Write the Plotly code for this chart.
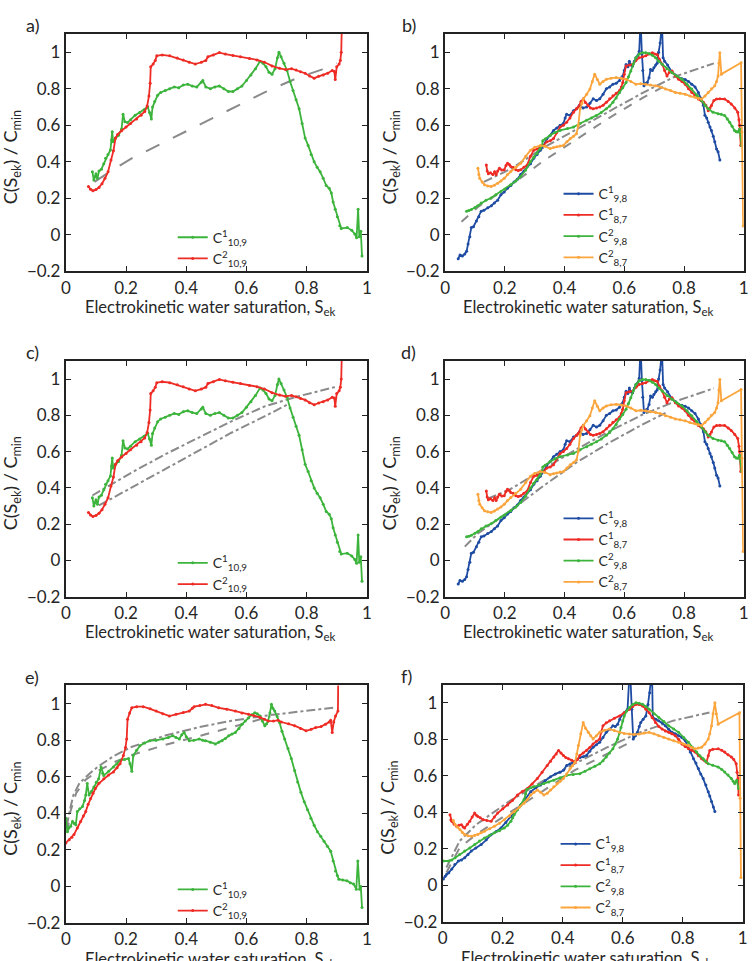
import plotly.graph_objects as go

# ---------------- data ----------------
A_GREEN = [(0.088,0.345),(0.093,0.30),(0.097,0.32),(0.1,0.335),(0.105,0.31),(0.11,0.35),(0.118,0.36),(0.126,0.39),(0.132,0.42),(0.14,0.44),(0.148,0.465),(0.152,0.52),(0.154,0.565),(0.157,0.51),(0.165,0.53),(0.175,0.545),(0.185,0.58),(0.19,0.66),(0.196,0.62),(0.205,0.615),(0.215,0.63),(0.23,0.655),(0.245,0.67),(0.26,0.685),(0.272,0.70),(0.278,0.67),(0.284,0.635),(0.288,0.70),(0.295,0.73),(0.305,0.765),(0.315,0.78),(0.33,0.79),(0.345,0.80),(0.36,0.81),(0.375,0.805),(0.39,0.82),(0.405,0.825),(0.42,0.815),(0.435,0.81),(0.45,0.835),(0.455,0.845),(0.465,0.81),(0.48,0.80),(0.495,0.81),(0.51,0.815),(0.525,0.80),(0.54,0.785),(0.555,0.785),(0.57,0.80),(0.585,0.815),(0.6,0.845),(0.615,0.875),(0.63,0.91),(0.645,0.95),(0.655,0.94),(0.665,0.92),(0.675,0.89),(0.685,0.88),(0.695,0.91),(0.703,0.97),(0.708,1.0),(0.715,0.975),(0.725,0.94),(0.735,0.90),(0.745,0.84),(0.755,0.79),(0.765,0.74),(0.775,0.69),(0.785,0.61),(0.795,0.53),(0.805,0.49),(0.815,0.44),(0.825,0.40),(0.835,0.37),(0.845,0.345),(0.855,0.31),(0.865,0.27),(0.875,0.255),(0.882,0.23),(0.888,0.18),(0.895,0.14),(0.902,0.10),(0.91,0.05),(0.915,0.035),(0.935,0.04),(0.95,0.025),(0.96,0.005),(0.966,-0.015),(0.971,0.14),(0.975,-0.01),(0.98,0.02),(0.984,-0.115)]
A_RED = [(0.075,0.265),(0.082,0.25),(0.09,0.242),(0.1,0.248),(0.11,0.26),(0.12,0.28),(0.13,0.31),(0.14,0.345),(0.15,0.41),(0.158,0.46),(0.165,0.53),(0.172,0.55),(0.185,0.57),(0.2,0.59),(0.215,0.61),(0.235,0.635),(0.25,0.655),(0.262,0.675),(0.27,0.705),(0.276,0.76),(0.28,0.83),(0.282,0.92),(0.29,0.935),(0.297,0.955),(0.302,0.98),(0.32,0.985),(0.345,0.98),(0.37,0.968),(0.39,0.958),(0.41,0.945),(0.43,0.935),(0.45,0.945),(0.465,0.955),(0.472,0.975),(0.49,0.985),(0.51,0.998),(0.53,0.99),(0.555,0.982),(0.58,0.975),(0.61,0.965),(0.635,0.958),(0.66,0.945),(0.685,0.925),(0.71,0.912),(0.73,0.905),(0.75,0.91),(0.765,0.902),(0.78,0.893),(0.795,0.885),(0.81,0.87),(0.825,0.858),(0.84,0.868),(0.855,0.875),(0.87,0.885),(0.885,0.90),(0.892,0.895),(0.895,0.85),(0.90,0.92),(0.908,0.935),(0.912,0.955),(0.915,1.0),(0.917,1.15)]
A_FIT = [(0.095,0.29),(0.15,0.35),(0.22,0.42),(0.33,0.51),(0.44,0.60),(0.55,0.69),(0.66,0.78),(0.77,0.86),(0.85,0.905),(0.90,0.94)]
C_FIT_UP = [(0.088,0.358),(0.15,0.42),(0.22,0.486),(0.33,0.585),(0.44,0.676),(0.55,0.767),(0.66,0.849),(0.77,0.904),(0.90,0.958)]
C_FIT_LO = [(0.11,0.303),(0.22,0.404),(0.33,0.504),(0.44,0.603),(0.55,0.704),(0.66,0.794),(0.735,0.858)]

B_BLUE = [(0.044,-0.13),(0.05,-0.11),(0.058,-0.115),(0.066,-0.105),(0.072,-0.09),(0.077,-0.05),(0.083,-0.01),(0.088,0.04),(0.095,0.045),(0.105,0.076),(0.113,0.10),(0.121,0.13),(0.13,0.135),(0.143,0.148),(0.155,0.16),(0.165,0.175),(0.176,0.19),(0.187,0.22),(0.198,0.235),(0.209,0.256),(0.22,0.27),(0.231,0.29),(0.242,0.305),(0.253,0.33),(0.264,0.35),(0.275,0.374),(0.286,0.39),(0.297,0.42),(0.308,0.44),(0.319,0.464),(0.33,0.49),(0.341,0.527),(0.352,0.545),(0.363,0.572),(0.374,0.585),(0.385,0.60),(0.396,0.61),(0.402,0.64),(0.407,0.66),(0.418,0.655),(0.43,0.68),(0.44,0.69),(0.45,0.71),(0.462,0.695),(0.474,0.70),(0.485,0.72),(0.496,0.745),(0.507,0.735),(0.518,0.745),(0.529,0.77),(0.54,0.80),(0.551,0.81),(0.562,0.825),(0.573,0.83),(0.584,0.845),(0.59,0.86),(0.595,0.87),(0.6,0.90),(0.606,0.933),(0.612,0.92),(0.617,0.95),(0.622,0.93),(0.628,0.925),(0.634,0.95),(0.639,0.97),(0.645,0.98),(0.65,1.005),(0.653,1.12),(0.656,1.12),(0.659,0.99),(0.662,0.90),(0.666,0.816),(0.672,0.83),(0.677,0.834),(0.683,0.86),(0.688,0.906),(0.694,0.90),(0.699,0.915),(0.705,0.93),(0.71,0.94),(0.715,1.0),(0.72,1.05),(0.724,1.12),(0.727,1.12),(0.73,0.97),(0.735,0.95),(0.745,0.93),(0.76,0.89),(0.771,0.875),(0.782,0.86),(0.793,0.855),(0.804,0.85),(0.815,0.84),(0.826,0.825),(0.837,0.81),(0.848,0.78),(0.856,0.75),(0.865,0.71),(0.87,0.655),(0.876,0.64),(0.881,0.617),(0.887,0.59),(0.892,0.572),(0.898,0.54),(0.903,0.51),(0.909,0.47),(0.914,0.455),(0.92,0.41)]
B_RED = [(0.138,0.383),(0.141,0.35),(0.145,0.335),(0.152,0.34),(0.16,0.33),(0.166,0.345),(0.171,0.33),(0.176,0.35),(0.182,0.365),(0.19,0.355),(0.198,0.356),(0.204,0.38),(0.209,0.392),(0.215,0.385),(0.22,0.374),(0.228,0.37),(0.237,0.356),(0.245,0.352),(0.253,0.356),(0.264,0.37),(0.275,0.383),(0.286,0.43),(0.297,0.464),(0.308,0.47),(0.319,0.482),(0.33,0.49),(0.341,0.51),(0.352,0.515),(0.363,0.527),(0.374,0.56),(0.385,0.59),(0.396,0.60),(0.407,0.617),(0.418,0.64),(0.43,0.672),(0.44,0.69),(0.446,0.70),(0.455,0.73),(0.463,0.745),(0.47,0.725),(0.479,0.708),(0.487,0.695),(0.496,0.69),(0.507,0.695),(0.518,0.70),(0.529,0.71),(0.54,0.726),(0.551,0.745),(0.562,0.762),(0.573,0.775),(0.584,0.79),(0.59,0.81),(0.595,0.834),(0.6,0.88),(0.606,0.925),(0.617,0.93),(0.628,0.934),(0.639,0.955),(0.65,0.97),(0.661,0.975),(0.672,0.98),(0.683,0.99),(0.694,0.997),(0.702,0.99),(0.71,0.988),(0.718,0.96),(0.727,0.934),(0.735,0.90),(0.743,0.87),(0.751,0.89),(0.76,0.897),(0.771,0.87),(0.782,0.852),(0.793,0.84),(0.804,0.825),(0.815,0.80),(0.826,0.78),(0.837,0.765),(0.848,0.744),(0.857,0.735),(0.865,0.726),(0.873,0.71),(0.881,0.68),(0.887,0.695),(0.892,0.708),(0.90,0.735),(0.909,0.744),(0.92,0.745),(0.936,0.744),(0.948,0.73),(0.958,0.717),(0.97,0.695),(0.98,0.672),(0.984,0.63),(0.986,0.60),(0.99,0.49)]
B_GREEN = [(0.072,0.13),(0.08,0.133),(0.088,0.139),(0.1,0.15),(0.11,0.16),(0.121,0.175),(0.137,0.19),(0.154,0.202),(0.17,0.22),(0.187,0.238),(0.2,0.25),(0.22,0.274),(0.237,0.295),(0.253,0.32),(0.27,0.355),(0.286,0.40),(0.297,0.425),(0.308,0.446),(0.318,0.47),(0.325,0.49),(0.327,0.515),(0.335,0.525),(0.352,0.545),(0.368,0.56),(0.385,0.572),(0.41,0.582),(0.43,0.59),(0.452,0.61),(0.474,0.627),(0.49,0.64),(0.507,0.654),(0.523,0.67),(0.54,0.69),(0.551,0.705),(0.562,0.726),(0.573,0.75),(0.584,0.78),(0.595,0.805),(0.606,0.834),(0.614,0.865),(0.622,0.897),(0.63,0.935),(0.639,0.97),(0.65,0.99),(0.661,0.997),(0.672,0.997),(0.683,0.993),(0.694,0.983),(0.705,0.97),(0.716,0.95),(0.727,0.934),(0.743,0.91),(0.76,0.888),(0.776,0.87),(0.793,0.852),(0.81,0.825),(0.826,0.798),(0.843,0.765),(0.859,0.735),(0.87,0.71),(0.881,0.69),(0.897,0.672),(0.914,0.663),(0.925,0.66),(0.936,0.654),(0.945,0.635),(0.953,0.617),(0.961,0.595),(0.969,0.572),(0.975,0.565),(0.98,0.563),(0.986,0.58),(0.993,0.49)]
B_ORANGE = [(0.11,0.365),(0.113,0.33),(0.116,0.31),(0.124,0.29),(0.132,0.274),(0.143,0.268),(0.154,0.265),(0.165,0.272),(0.176,0.283),(0.187,0.295),(0.198,0.31),(0.209,0.33),(0.22,0.347),(0.237,0.37),(0.253,0.392),(0.27,0.43),(0.286,0.464),(0.30,0.48),(0.319,0.49),(0.335,0.485),(0.352,0.473),(0.363,0.478),(0.374,0.482),(0.385,0.487),(0.396,0.49),(0.408,0.51),(0.419,0.527),(0.43,0.54),(0.44,0.554),(0.446,0.60),(0.452,0.69),(0.458,0.72),(0.463,0.744),(0.474,0.77),(0.485,0.798),(0.493,0.84),(0.501,0.88),(0.51,0.85),(0.518,0.825),(0.529,0.84),(0.54,0.852),(0.556,0.858),(0.573,0.861),(0.59,0.857),(0.606,0.852),(0.622,0.84),(0.639,0.825),(0.655,0.828),(0.672,0.825),(0.688,0.82),(0.705,0.816),(0.72,0.81),(0.738,0.798),(0.755,0.79),(0.771,0.78),(0.787,0.775),(0.804,0.77),(0.82,0.76),(0.837,0.753),(0.848,0.748),(0.859,0.744),(0.87,0.76),(0.881,0.78),(0.892,0.80),(0.903,0.816),(0.909,0.84),(0.914,0.87),(0.917,0.94),(0.92,0.997),(0.925,0.88),(0.991,0.942),(0.994,0.563),(0.998,0.049)]
B_FIT_UP = [(0.13,0.29),(0.22,0.361),(0.33,0.478),(0.44,0.578),(0.55,0.677),(0.66,0.776),(0.77,0.867),(0.90,0.939)]
B_FIT_LO = [(0.055,0.072),(0.11,0.153),(0.22,0.271),(0.33,0.406),(0.44,0.523),(0.55,0.641),(0.66,0.749),(0.73,0.81)]
D_FIT_UP = [(0.143,0.34),(0.22,0.394),(0.33,0.504),(0.44,0.613),(0.55,0.712),(0.66,0.803),(0.77,0.876),(0.90,0.949)]
D_FIT_LO = [(0.066,0.076),(0.11,0.149),(0.22,0.276),(0.33,0.412),(0.44,0.54),(0.55,0.649),(0.66,0.749),(0.738,0.813)]

E_GREEN = [(0.0,0.374),(0.005,0.30),(0.01,0.32),(0.016,0.33),(0.022,0.356),(0.028,0.345),(0.033,0.338),(0.038,0.41),(0.046,0.425),(0.055,0.437),(0.062,0.47),(0.066,0.50),(0.071,0.563),(0.077,0.50),(0.085,0.52),(0.093,0.545),(0.101,0.57),(0.109,0.59),(0.117,0.654),(0.122,0.62),(0.126,0.608),(0.142,0.63),(0.158,0.654),(0.17,0.67),(0.18,0.69),(0.195,0.695),(0.208,0.70),(0.213,0.672),(0.219,0.63),(0.224,0.717),(0.235,0.745),(0.246,0.77),(0.262,0.785),(0.279,0.798),(0.30,0.80),(0.322,0.807),(0.34,0.815),(0.355,0.825),(0.366,0.815),(0.377,0.807),(0.385,0.83),(0.393,0.843),(0.40,0.82),(0.41,0.798),(0.425,0.80),(0.443,0.807),(0.455,0.80),(0.464,0.798),(0.48,0.79),(0.497,0.78),(0.508,0.79),(0.519,0.798),(0.53,0.81),(0.541,0.825),(0.552,0.835),(0.563,0.843),(0.575,0.865),(0.585,0.888),(0.596,0.905),(0.607,0.924),(0.618,0.94),(0.628,0.951),(0.636,0.945),(0.645,0.933),(0.653,0.905),(0.661,0.88),(0.667,0.89),(0.672,0.906),(0.678,0.95),(0.683,0.997),(0.688,0.975),(0.694,0.96),(0.702,0.93),(0.71,0.897),(0.718,0.85),(0.727,0.807),(0.738,0.755),(0.749,0.70),(0.76,0.635),(0.77,0.572),(0.781,0.515),(0.792,0.464),(0.803,0.42),(0.814,0.374),(0.825,0.335),(0.836,0.30),(0.847,0.275),(0.858,0.247),(0.869,0.22),(0.88,0.193),(0.888,0.14),(0.896,0.085),(0.902,0.06),(0.907,0.04),(0.92,0.035),(0.934,0.031),(0.945,0.02),(0.956,0.013),(0.965,-0.015),(0.97,0.14),(0.976,-0.015),(0.98,0.0),(0.984,-0.115)]
E_RED = [(0.0,0.238),(0.011,0.256),(0.02,0.27),(0.027,0.284),(0.038,0.32),(0.049,0.356),(0.058,0.385),(0.066,0.41),(0.074,0.45),(0.082,0.482),(0.09,0.51),(0.098,0.536),(0.11,0.565),(0.126,0.59),(0.142,0.61),(0.158,0.627),(0.17,0.65),(0.18,0.672),(0.191,0.717),(0.198,0.76),(0.202,0.807),(0.205,0.915),(0.212,0.95),(0.219,0.978),(0.235,0.984),(0.257,0.984),(0.28,0.972),(0.30,0.96),(0.322,0.945),(0.344,0.933),(0.366,0.942),(0.39,0.952),(0.41,0.96),(0.42,0.975),(0.426,0.984),(0.445,0.99),(0.464,0.997),(0.485,0.99),(0.508,0.978),(0.535,0.97),(0.563,0.96),(0.585,0.95),(0.607,0.942),(0.625,0.935),(0.645,0.925),(0.66,0.915),(0.672,0.906),(0.69,0.905),(0.705,0.91),(0.716,0.90),(0.74,0.89),(0.76,0.88),(0.78,0.865),(0.798,0.852),(0.815,0.86),(0.83,0.87),(0.848,0.875),(0.863,0.888),(0.875,0.90),(0.88,0.91),(0.885,0.843),(0.89,0.90),(0.896,0.933),(0.904,0.96),(0.905,1.15)]
E_FIT_UP = [(0.003,0.33),(0.012,0.41),(0.025,0.50),(0.045,0.565),(0.08,0.62),(0.11,0.66),(0.16,0.715),(0.22,0.765),(0.33,0.826),(0.44,0.871),(0.55,0.907),(0.66,0.934),(0.77,0.956),(0.89,0.979)]
E_FIT_LO = [(0.005,0.30),(0.015,0.41),(0.034,0.51),(0.066,0.585),(0.11,0.635),(0.16,0.68),(0.22,0.72),(0.33,0.775),(0.44,0.822),(0.55,0.87),(0.66,0.92),(0.68,0.93)]

F_BLUE = [(0.002,0.035),(0.008,0.05),(0.013,0.062),(0.02,0.07),(0.03,0.09),(0.04,0.115),(0.052,0.134),(0.062,0.14),(0.073,0.152),(0.084,0.17),(0.095,0.188),(0.11,0.205),(0.128,0.224),(0.145,0.25),(0.161,0.278),(0.178,0.295),(0.194,0.315),(0.21,0.345),(0.227,0.378),(0.244,0.41),(0.26,0.44),(0.276,0.475),(0.293,0.513),(0.31,0.535),(0.326,0.55),(0.342,0.575),(0.359,0.595),(0.375,0.61),(0.391,0.62),(0.402,0.63),(0.413,0.657),(0.424,0.665),(0.435,0.675),(0.446,0.69),(0.457,0.70),(0.468,0.705),(0.479,0.712),(0.49,0.735),(0.501,0.757),(0.512,0.77),(0.523,0.784),(0.534,0.81),(0.545,0.838),(0.556,0.855),(0.567,0.874),(0.575,0.87),(0.583,0.883),(0.59,0.91),(0.594,0.928),(0.605,0.946),(0.616,0.965),(0.621,1.12),(0.626,1.12),(0.63,0.965),(0.635,0.802),(0.642,0.82),(0.649,0.838),(0.655,0.87),(0.66,0.892),(0.668,0.91),(0.677,0.928),(0.684,0.99),(0.69,1.055),(0.694,1.12),(0.698,1.12),(0.70,0.92),(0.71,0.91),(0.72,0.901),(0.731,0.89),(0.742,0.874),(0.753,0.855),(0.764,0.838),(0.775,0.83),(0.786,0.82),(0.797,0.81),(0.808,0.793),(0.817,0.76),(0.825,0.73),(0.836,0.694),(0.844,0.67),(0.852,0.64),(0.86,0.61),(0.868,0.585),(0.877,0.55),(0.885,0.513),(0.89,0.49),(0.896,0.46),(0.902,0.43),(0.907,0.405)]
F_RED = [(0.024,0.387),(0.027,0.36),(0.03,0.351),(0.038,0.335),(0.046,0.324),(0.054,0.33),(0.062,0.333),(0.068,0.32),(0.073,0.315),(0.082,0.335),(0.09,0.351),(0.098,0.375),(0.106,0.396),(0.112,0.385),(0.117,0.378),(0.125,0.37),(0.134,0.36),(0.147,0.355),(0.161,0.351),(0.172,0.375),(0.183,0.396),(0.20,0.42),(0.216,0.44),(0.232,0.465),(0.249,0.495),(0.265,0.515),(0.282,0.531),(0.298,0.555),(0.315,0.585),(0.331,0.62),(0.348,0.657),(0.359,0.68),(0.37,0.703),(0.378,0.72),(0.386,0.739),(0.394,0.725),(0.402,0.712),(0.41,0.70),(0.419,0.694),(0.43,0.685),(0.441,0.675),(0.449,0.69),(0.457,0.712),(0.468,0.725),(0.479,0.739),(0.49,0.755),(0.501,0.775),(0.512,0.79),(0.523,0.802),(0.528,0.84),(0.534,0.874),(0.545,0.89),(0.556,0.901),(0.572,0.915),(0.589,0.928),(0.605,0.945),(0.622,0.965),(0.633,0.98),(0.644,0.992),(0.655,0.99),(0.666,0.983),(0.677,0.965),(0.688,0.946),(0.698,0.92),(0.709,0.892),(0.72,0.87),(0.731,0.856),(0.742,0.845),(0.753,0.838),(0.764,0.83),(0.775,0.82),(0.786,0.80),(0.797,0.775),(0.808,0.76),(0.819,0.748),(0.83,0.74),(0.841,0.73),(0.852,0.71),(0.863,0.694),(0.871,0.685),(0.879,0.675),(0.885,0.71),(0.89,0.739),(0.90,0.745),(0.918,0.748),(0.93,0.74),(0.94,0.73),(0.951,0.715),(0.962,0.703),(0.97,0.69),(0.978,0.666),(0.981,0.62),(0.984,0.585),(0.986,0.495)]
F_GREEN = [(0.002,0.134),(0.019,0.134),(0.03,0.14),(0.041,0.152),(0.056,0.17),(0.073,0.188),(0.09,0.205),(0.106,0.224),(0.122,0.243),(0.139,0.26),(0.156,0.275),(0.172,0.288),(0.189,0.30),(0.205,0.315),(0.216,0.33),(0.227,0.351),(0.233,0.37),(0.238,0.387),(0.249,0.415),(0.26,0.44),(0.271,0.47),(0.276,0.50),(0.28,0.525),(0.293,0.535),(0.304,0.54),(0.32,0.55),(0.337,0.558),(0.353,0.567),(0.37,0.576),(0.391,0.59),(0.413,0.603),(0.435,0.608),(0.457,0.612),(0.474,0.625),(0.49,0.639),(0.507,0.652),(0.523,0.666),(0.534,0.683),(0.545,0.703),(0.556,0.725),(0.567,0.748),(0.575,0.775),(0.583,0.802),(0.589,0.835),(0.594,0.865),(0.60,0.90),(0.605,0.928),(0.613,0.955),(0.622,0.974),(0.633,0.99),(0.644,1.0),(0.655,0.997),(0.666,0.992),(0.677,0.98),(0.688,0.965),(0.704,0.94),(0.72,0.92),(0.737,0.898),(0.753,0.874),(0.77,0.856),(0.786,0.838),(0.803,0.81),(0.819,0.784),(0.832,0.757),(0.846,0.73),(0.857,0.71),(0.868,0.694),(0.876,0.68),(0.885,0.666),(0.90,0.658),(0.918,0.648),(0.93,0.635),(0.94,0.621),(0.951,0.605),(0.962,0.585),(0.968,0.57),(0.973,0.558),(0.98,0.576),(0.986,0.531)]
F_ORANGE = [(0.035,0.355),(0.041,0.333),(0.049,0.32),(0.057,0.306),(0.065,0.29),(0.073,0.279),(0.084,0.272),(0.095,0.27),(0.106,0.274),(0.117,0.279),(0.128,0.288),(0.139,0.297),(0.156,0.31),(0.172,0.324),(0.189,0.34),(0.205,0.36),(0.222,0.38),(0.238,0.405),(0.255,0.428),(0.271,0.45),(0.282,0.47),(0.293,0.495),(0.304,0.51),(0.315,0.522),(0.326,0.51),(0.337,0.495),(0.348,0.505),(0.359,0.522),(0.37,0.54),(0.381,0.558),(0.391,0.57),(0.402,0.585),(0.413,0.61),(0.424,0.639),(0.432,0.655),(0.441,0.675),(0.447,0.72),(0.452,0.766),(0.46,0.83),(0.468,0.892),(0.476,0.86),(0.485,0.838),(0.493,0.82),(0.501,0.802),(0.512,0.82),(0.523,0.838),(0.539,0.85),(0.556,0.856),(0.572,0.848),(0.589,0.838),(0.605,0.832),(0.622,0.829),(0.638,0.826),(0.655,0.829),(0.671,0.835),(0.688,0.838),(0.704,0.83),(0.72,0.82),(0.737,0.81),(0.753,0.802),(0.77,0.792),(0.786,0.784),(0.803,0.775),(0.819,0.766),(0.83,0.755),(0.841,0.748),(0.852,0.752),(0.863,0.757),(0.874,0.775),(0.885,0.802),(0.89,0.83),(0.896,0.874),(0.901,0.94),(0.907,1.0),(0.912,0.94),(0.918,0.883),(0.989,0.946),(0.991,0.477),(0.994,0.044)]
F_FIT_UP = [(0.012,0.098),(0.056,0.243),(0.111,0.333),(0.22,0.459),(0.33,0.568),(0.44,0.667),(0.549,0.757),(0.659,0.839),(0.768,0.902),(0.889,0.947)]
F_FIT_LO = [(0.012,0.071),(0.056,0.206),(0.111,0.279),(0.22,0.396),(0.33,0.514),(0.44,0.631),(0.549,0.721),(0.615,0.775)]

X_TICKS = [0, 0.2, 0.4, 0.6, 0.8, 1]
Y_TICKS = [-0.2, 0, 0.2, 0.4, 0.6, 0.8, 1]
PANEL_LABELS = ["a)", "b)", "c)", "d)", "e)", "f)"]
NAME_10_1 = "C<sup>1</sup><sub>10,9</sub>"
NAME_10_2 = "C<sup>2</sup><sub>10,9</sub>"
NAME_98_1 = "C<sup>1</sup><sub>9,8</sub>"
NAME_87_1 = "C<sup>1</sup><sub>8,7</sub>"
NAME_98_2 = "C<sup>2</sup><sub>9,8</sub>"
NAME_87_2 = "C<sup>2</sup><sub>8,7</sub>"
X_TITLE = "Electrokinetic water saturation, S<sub>ek</sub>"
Y_TITLE = "C(S<sub>ek</sub>) / C<sub>min</sub>"

# ---------------- style ----------------
W, H = 752, 961
GREEN = "#3cb43c"
RED = "#ee2b24"
BLUE = "#1f4ca3"
ORANGE = "#fba53c"
GRAY = "#8a8a8a"
FONT = "Lato"
TXT = "#262626"

# panel boxes in pixels: (left, right, top, bottom)
BOX = [(61.7, 366.7, 34.3, 274.3), (446.0, 748.7, 34.3, 274.3),
       (61.7, 366.7, 364.7, 603.0), (446.0, 748.7, 364.7, 603.0),
       (61.7, 366.7, 692.7, 932.7), (443.7, 747.7, 691.7, 931.7)]

fig = go.Figure()

def px(x):
    return x / W

def py(y):
    return 1 - y / H

def add_line(i, pts, color, name=None, dash="solid", width=1.8, markers=True):
    k = "" if i == 0 else str(i + 1)
    fig.add_trace(go.Scatter(
        x=[p[0] for p in pts], y=[p[1] for p in pts],
        mode="lines+markers" if markers else "lines",
        line=dict(color=color, width=width, dash=dash),
        marker=dict(size=3, color=color),
        name=name if name else "fit",
        showlegend=name is not None,
        legend="legend" + k,
        xaxis="x" + k, yaxis="y" + k, hoverinfo="skip"))

# a
add_line(0, A_FIT, GRAY, dash="longdash", width=2, markers=False)
add_line(0, A_GREEN, GREEN, NAME_10_1)
add_line(0, A_RED, RED, NAME_10_2)
# b
add_line(1, B_FIT_UP, GRAY, dash="dashdot", width=2, markers=False)
add_line(1, B_FIT_LO, GRAY, dash="dash", width=2, markers=False)
add_line(1, B_BLUE, BLUE, NAME_98_1)
add_line(1, B_RED, RED, NAME_87_1)
add_line(1, B_GREEN, GREEN, NAME_98_2)
add_line(1, B_ORANGE, ORANGE, NAME_87_2)
# c
add_line(2, C_FIT_UP, GRAY, dash="dashdot", width=2, markers=False)
add_line(2, C_FIT_LO, GRAY, dash="dashdot", width=2, markers=False)
add_line(2, A_GREEN, GREEN, NAME_10_1)
add_line(2, A_RED, RED, NAME_10_2)
# d
add_line(3, D_FIT_UP, GRAY, dash="dashdot", width=2, markers=False)
add_line(3, D_FIT_LO, GRAY, dash="dashdot", width=2, markers=False)
add_line(3, B_BLUE, BLUE, NAME_98_1)
add_line(3, B_RED, RED, NAME_87_1)
add_line(3, B_GREEN, GREEN, NAME_98_2)
add_line(3, B_ORANGE, ORANGE, NAME_87_2)
# e
add_line(4, E_FIT_UP, GRAY, dash="dashdot", width=2, markers=False)
add_line(4, E_FIT_LO, GRAY, dash="dash", width=2, markers=False)
add_line(4, E_GREEN, GREEN, NAME_10_1)
add_line(4, E_RED, RED, NAME_10_2)
# f
add_line(5, F_FIT_UP, GRAY, dash="dashdot", width=2, markers=False)
add_line(5, F_FIT_LO, GRAY, dash="dash", width=2, markers=False)
add_line(5, F_BLUE, BLUE, NAME_98_1)
add_line(5, F_RED, RED, NAME_87_1)
add_line(5, F_GREEN, GREEN, NAME_98_2)
add_line(5, F_ORANGE, ORANGE, NAME_87_2)

layout = dict(width=W, height=H, margin=dict(l=0, r=0, t=0, b=0),
              paper_bgcolor="white", plot_bgcolor="white",
              font=dict(family=FONT, color=TXT, size=16))
axis_common = dict(showline=True, linecolor="#222", linewidth=2, mirror="ticks",
                   ticks="inside", ticklen=5, tickwidth=1.2, tickcolor="#222",
                   showgrid=False, zeroline=False,
                   tickfont=dict(family=FONT, size=17, color=TXT))
annotations = []
legend_pos = [(170, 224), (561, 180), (170, 553), (561, 508), (170, 883), (558, 837)]
for i, (l, r, t, b) in enumerate(BOX):
    k = "" if i == 0 else str(i + 1)
    layout["xaxis" + k] = dict(axis_common, domain=[px(l), px(r)], range=[0, 1],
                               tickvals=X_TICKS, anchor="y" + k)
    layout["yaxis" + k] = dict(axis_common, domain=[py(b), py(t)], range=[-0.2, 1.1],
                               tickvals=Y_TICKS, anchor="x" + k)
    lx, ly = legend_pos[i]
    layout["legend" + k] = dict(x=px(lx), y=py(ly), xanchor="left", yanchor="top",
                                bgcolor="rgba(0,0,0,0)", borderwidth=0,
                                font=dict(family=FONT, size=14, color=TXT),
                                tracegroupgap=0)
    left_col = i % 2 == 0
    annotations.append(dict(text=PANEL_LABELS[i], xref="paper", yref="paper",
                            x=px(l - 34 if left_col else l - 37), y=py(t - 9),
                            xanchor="center", yanchor="middle", showarrow=False,
                            font=dict(family=FONT, size=18, color=TXT)))
    annotations.append(dict(text=X_TITLE, xref="paper", yref="paper",
                            x=px((l + r) / 2 - 6), y=py(b + 24),
                            xanchor="center", yanchor="top", showarrow=False,
                            font=dict(family=FONT, size=16.5, color=TXT)))
    annotations.append(dict(text=Y_TITLE, xref="paper", yref="paper", textangle=-90,
                            x=px(l - (55 if left_col else 55)), y=py((t + b) / 2 + 5),
                            xanchor="center", yanchor="middle", showarrow=False,
                            font=dict(family=FONT, size=18, color=TXT)))
layout["annotations"] = annotations
layout["showlegend"] = True
fig.update_layout(**layout)
fig.write_html("out.html")
